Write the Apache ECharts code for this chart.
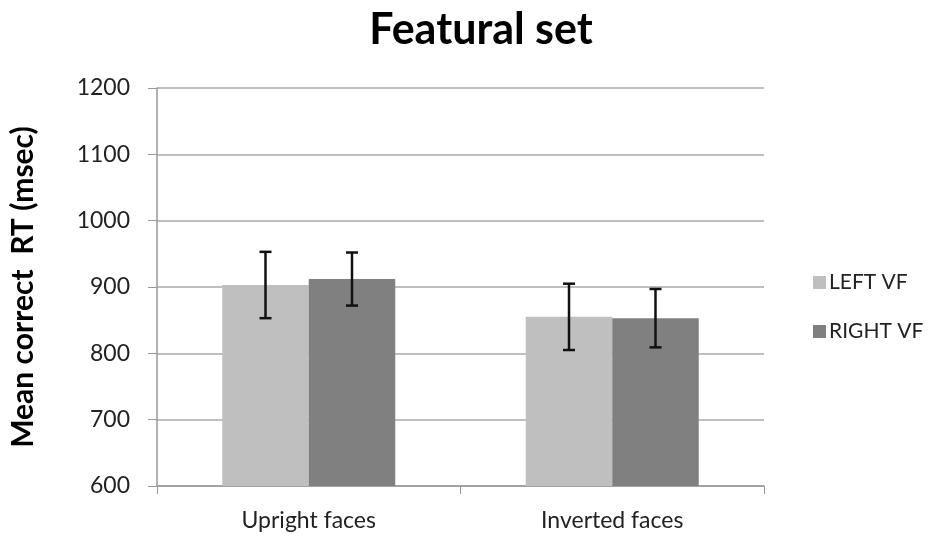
<!DOCTYPE html>
<html>
<head>
<meta charset="utf-8">
<script src="https://cdn.jsdelivr.net/npm/echarts@6/dist/echarts.min.js"></script>
<style>html,body{margin:0;padding:0;background:#fff;}#c{width:931px;height:538px;}</style>
</head>
<body>
<div id="c"></div>
<script>
const categories = ['Upright faces', 'Inverted faces'];
const seriesNames = ['LEFT VF', 'RIGHT VF'];
const leftVF = [903, 855];
const rightVF = [912, 853];
const leftErr = [50, 50];
const rightErr = [40, 44];
const yTicks = [600, 700, 800, 900, 1000, 1100, 1200];

const FONT = 'Lato';
const GAP = 0.43;
const chart = echarts.init(document.getElementById('c'));

function errSeries(vals, errs, sign) {
  return {
    type: 'custom',
    z: 10,
    silent: true,
    data: vals.map((v, i) => [i, v - errs[i], v + errs[i]]),
    renderItem: function (params, api) {
      const idx = api.value(0);
      const lo = api.coord([idx, api.value(1)]);
      const hi = api.coord([idx, api.value(2)]);
      const catW = api.size([1, 0])[0];
      const bw = catW * (1 - GAP) / 2;
      const x = lo[0] + sign * bw / 2;
      const cap = 6;
      const style = { stroke: '#111', lineWidth: 2.5 };
      return {
        type: 'group',
        children: [
          { type: 'line', shape: { x1: x, y1: lo[1], x2: x, y2: hi[1] }, style: style },
          { type: 'line', shape: { x1: x - cap, y1: lo[1], x2: x + cap, y2: lo[1] }, style: style },
          { type: 'line', shape: { x1: x - cap, y1: hi[1], x2: x + cap, y2: hi[1] }, style: style }
        ]
      };
    }
  };
}

chart.setOption({
  animation: false,
  backgroundColor: '#fff',
  textStyle: { fontFamily: FONT },
  title: {
    text: 'Featural set',
    left: 476,
    textAlign: 'center',
    top: 4,
    textStyle: { fontFamily: FONT, fontSize: 43, fontWeight: 'bold', color: '#000' }
  },
  legend: {
    orient: 'vertical',
    left: 808,
    top: 267,
    itemWidth: 13,
    itemHeight: 13,
    itemGap: 28,
    icon: 'rect',
    data: seriesNames,
    textStyle: { fontFamily: FONT, fontSize: 21, color: '#222', padding: [0, 0, 0, -2] }
  },
  grid: { left: 155, right: 167, top: 88, bottom: 52 },
  xAxis: {
    type: 'category',
    data: categories,
    axisLine: { lineStyle: { color: '#999', width: 1.5 } },
    axisTick: { show: true, length: 8, lineStyle: { color: '#999' } },
    axisLabel: { fontFamily: FONT, fontSize: 23, color: '#222', margin: 23 }
  },
  yAxis: {
    type: 'value',
    min: 600,
    max: 1200,
    interval: 100,
    name: 'Mean correct  RT (msec)',
    nameLocation: 'middle',
    nameGap: 119,
    nameTextStyle: { fontFamily: FONT, fontSize: 30, fontWeight: 'bold', color: '#000' },
    axisLine: { show: true, lineStyle: { color: '#999', width: 1.5 } },
    axisTick: { show: true, length: 9, lineStyle: { color: '#999' } },
    splitLine: { lineStyle: { color: '#aaa', width: 1.5 } },
    axisLabel: {
      fontFamily: FONT, fontSize: 23, color: '#222', margin: 27,
      customValues: yTicks,
      formatter: function (v) { return String(v); }
    }
  },
  series: [
    { name: seriesNames[0], type: 'bar', data: leftVF, barGap: '0%', barCategoryGap: (GAP * 100) + '%', itemStyle: { color: '#bfbfbf' } },
    { name: seriesNames[1], type: 'bar', data: rightVF, barGap: '0%', barCategoryGap: (GAP * 100) + '%', itemStyle: { color: '#808080' } },
    errSeries(leftVF, leftErr, -1),
    errSeries(rightVF, rightErr, 1)
  ]
});
</script>
</body>
</html>
